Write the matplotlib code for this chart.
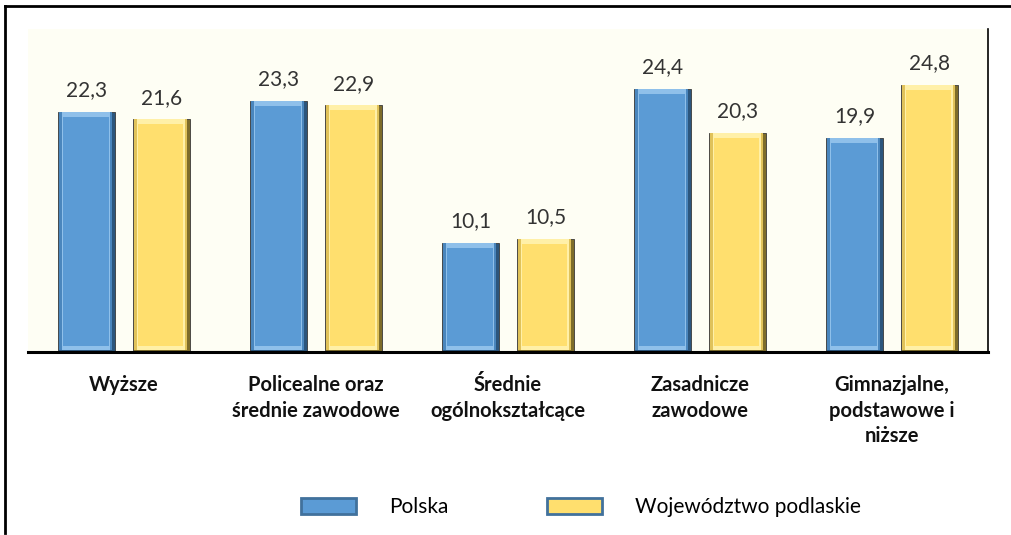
import matplotlib
matplotlib.use("Agg")
import matplotlib.pyplot as plt
from matplotlib.patches import Patch
from matplotlib.lines import Line2D
import numpy as np

categories = ["Wyższe", "Policealne oraz\nśrednie zawodowe", "Średnie\nogólnokształcące",
              "Zasadnicze\nzawodowe", "Gimnazjalne,\npodstawowe i\nniższe"]
polska = [22.3, 23.3, 10.1, 24.4, 19.9]
podlaskie = [21.6, 22.9, 10.5, 20.3, 24.8]
series_names = ["Polska", "Województwo podlaskie"]

plt.rcParams['font.family'] = ['Lato', 'DejaVu Sans']

fig = plt.figure(figsize=(10.12, 5.35), dpi=100)
ax = fig.add_axes([28/1012, 1-352/535, 960/1012, 323/535])
ax.set_facecolor('#fefef4')

x = np.arange(len(categories))
w = 0.297
off = 0.195

def bevel_bars(xpos, vals, base, dark, mid, light):
    vals = np.array(vals)
    # outer darker body (edge shading)
    ax.bar(xpos, vals, w, color=dark, edgecolor='#3a3a3a', linewidth=0.6, zorder=2)
    # medium rim
    ax.bar(xpos - 0.006, vals - 0.2, w * 0.92, bottom=0.2, color=mid, linewidth=0, zorder=3)
    # light top bevel
    ax.bar(xpos - 0.004, vals - 0.2, w * 0.84, bottom=0.2, color=light, linewidth=0, zorder=4)
    # main face
    ax.bar(xpos - 0.004, vals - 1.0, w * 0.80, bottom=0.55, color=base, linewidth=0, zorder=5)

bevel_bars(x - off, polska, '#5b9bd5', '#2c567d', '#4a86bd', '#8fc0ea')
bevel_bars(x + off, podlaskie, '#ffdf6e', '#7d6c2a', '#e0c25a', '#fff0a8')

for xs, vals in ((x - off, polska), (x + off, podlaskie)):
    for xi, v in zip(xs, vals):
        ax.text(xi, v + 1.1, f"{v:.1f}".replace('.', ','), ha='center', va='bottom',
                fontsize=15, color='#333333')

ax.set_xlim(-0.5, len(categories) - 0.5)
ax.set_ylim(0, 30)
ax.set_xticks([])
ax.set_yticks([])
for s in ('left', 'top'):
    ax.spines[s].set_visible(False)
ax.spines['right'].set_linewidth(1.2)
ax.spines['bottom'].set_linewidth(2.2)

for xi, c in zip(x, categories):
    ax.text(xi, -0.072, c, transform=ax.get_xaxis_transform(), ha='center', va='top',
            fontsize=14.5, fontweight='bold', color='#111111', linespacing=1.33)

handles = [Patch(facecolor='#5b9bd5', edgecolor='#41719c', linewidth=2),
           Patch(facecolor='#ffdf6e', edgecolor='#41719c', linewidth=2)]
fig.legend(handles, series_names, loc='center', bbox_to_anchor=(0.574, 0.052), ncol=2,
           frameon=False, fontsize=15, handlelength=2.64, handleheight=0.77,
           handletextpad=1.6, columnspacing=4.7)

# figure frame (top and left)
fig.add_artist(Line2D([5/1012, 1], [1-6/535, 1-6/535], color='black', lw=2, transform=fig.transFigure))
fig.add_artist(Line2D([5/1012, 5/1012], [1-6/535, 1-533/535], color='black', lw=2, transform=fig.transFigure))

fig.savefig('out.png', dpi=100, facecolor='white')
